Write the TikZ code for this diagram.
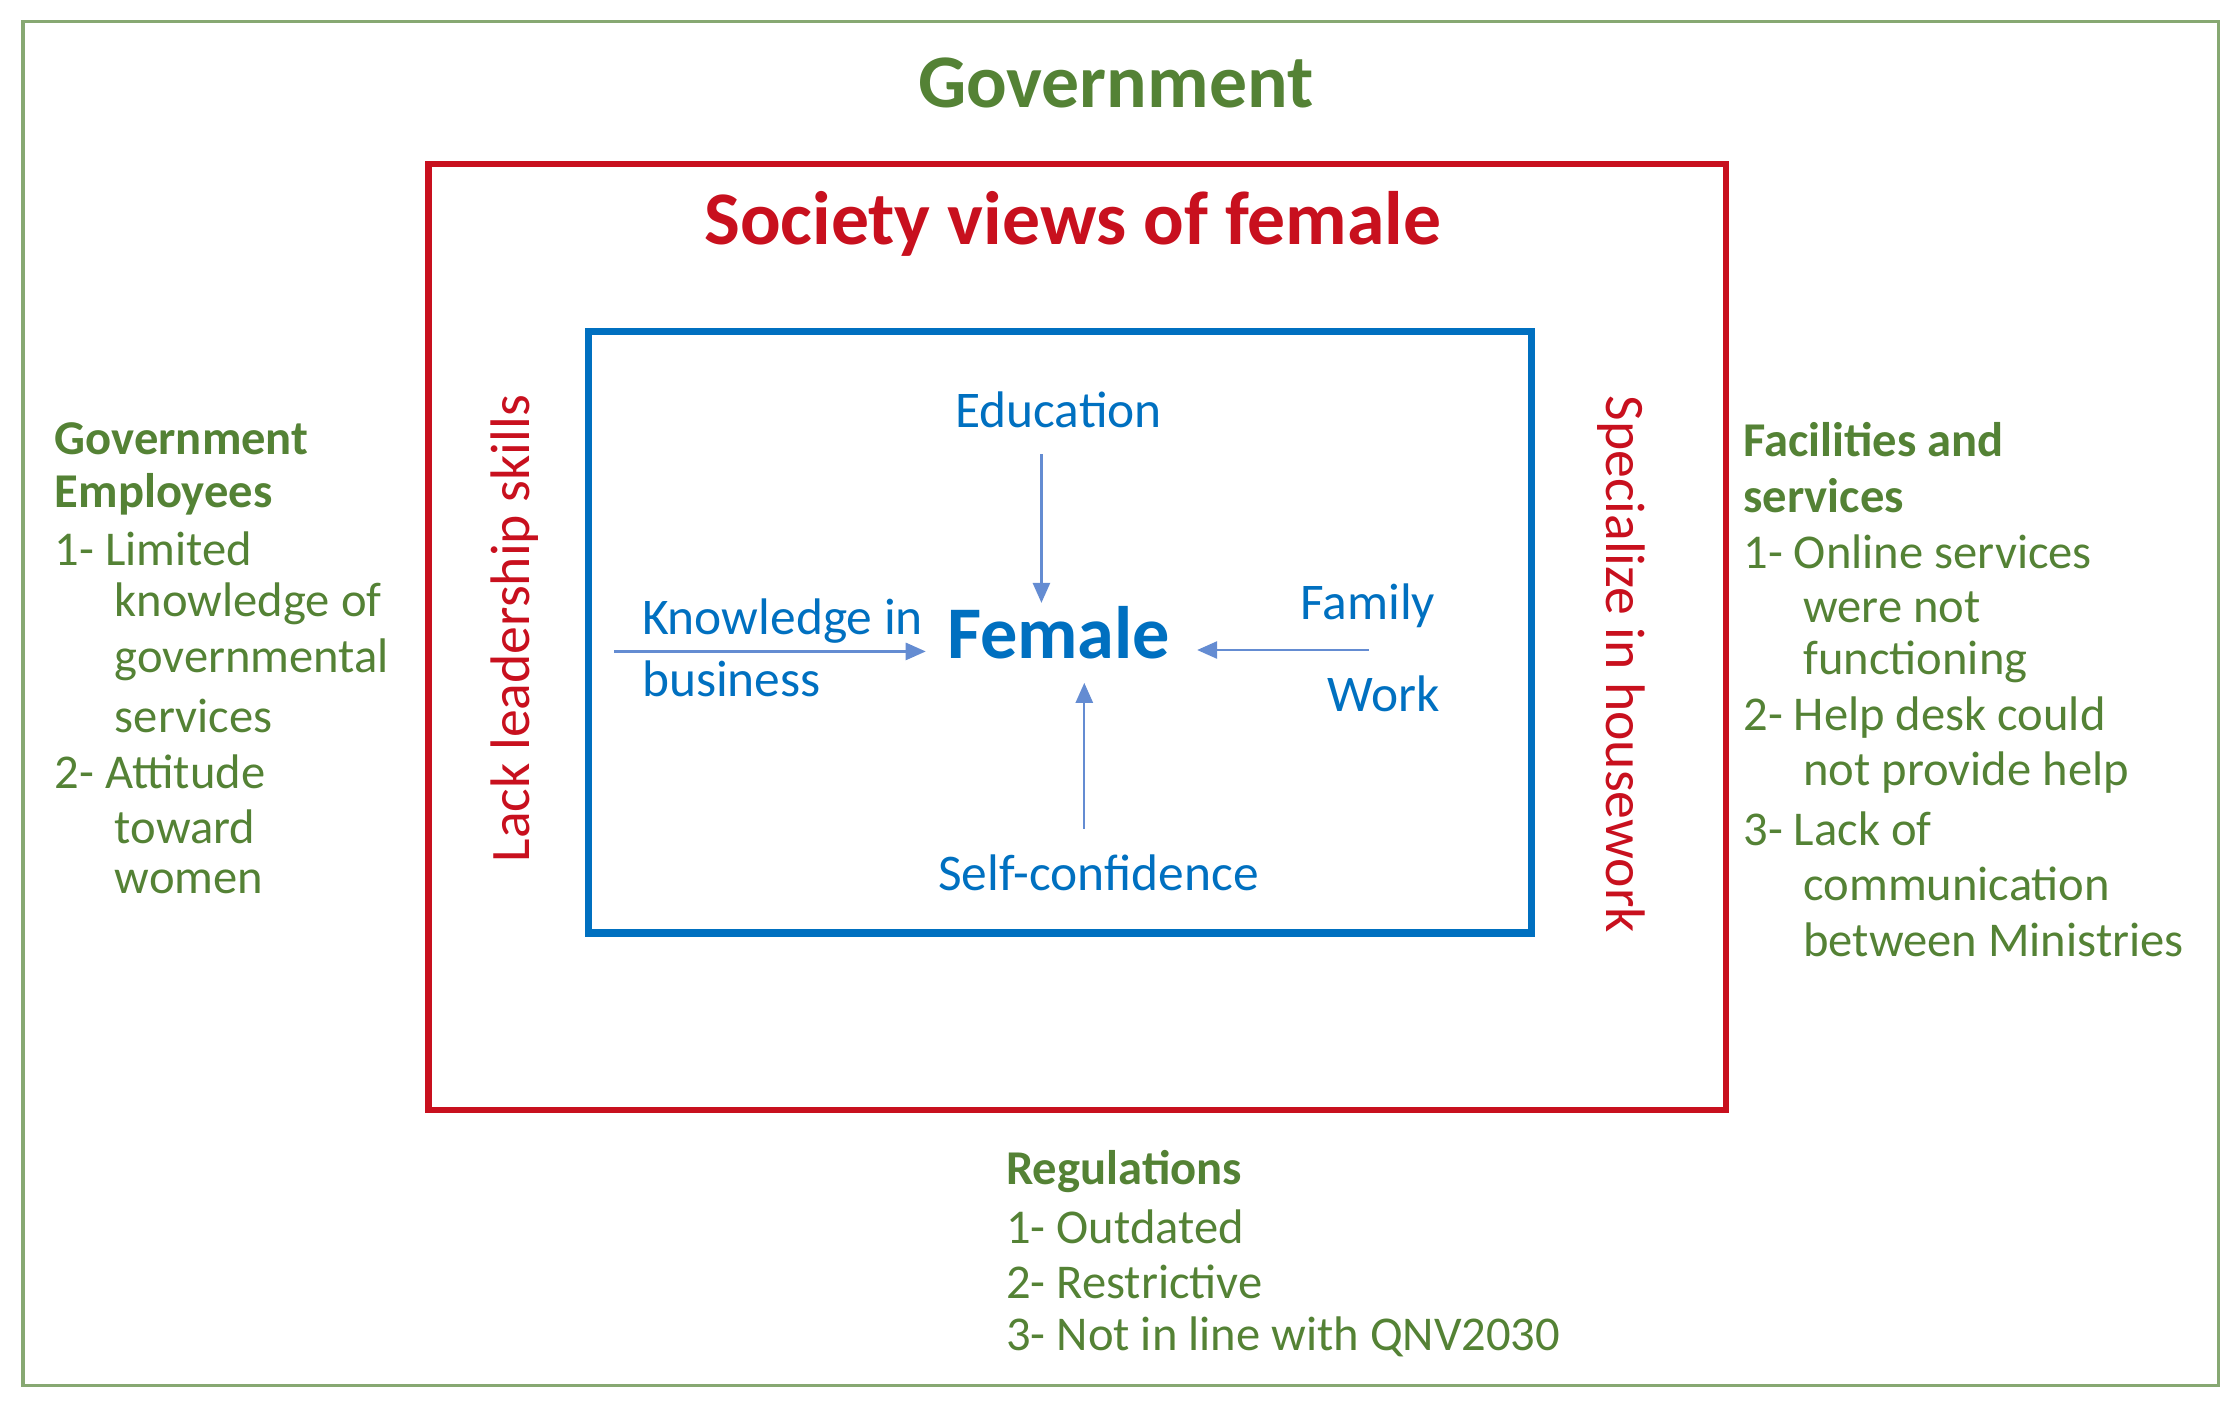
\documentclass[tikz,border=0pt]{standalone}
\usepackage{fontspec}
\setmainfont{Carlito}
\usetikzlibrary{arrows.meta}
\definecolor{gr}{RGB}{84,130,53}
\definecolor{rd}{RGB}{200,16,30}
\definecolor{bl}{RGB}{0,112,192}
\definecolor{ar}{RGB}{100,140,210}
\tikzset{
 gt/.style={text=gr,font=\fontsize{17}{20}\selectfont,anchor=west,inner sep=0},
 gtb/.style={gt,font=\fontsize{17}{20}\selectfont\bfseries},
 bt/.style={text=bl,font=\fontsize{18}{21}\selectfont,inner sep=0},
 rt/.style={text=rd,font=\fontsize{19.5}{22}\selectfont,inner sep=0},
 arr/.style={draw=ar,line width=0.8pt,-{Triangle[length=7pt,width=6pt]}}
}
\begin{document}
\begin{tikzpicture}[x=0.5pt,y=-0.5pt]
\useasboundingbox (0,0) rectangle (1568,992);
\draw[gr!70!white,line width=1.2pt] (16,15) rectangle (1553,970);
\draw[rd,line width=2.2pt] (300,115) rectangle (1208,777);
\draw[bl,line width=2.6pt] (412,232) rectangle (1072,653);
\node[text=gr,font=\fontsize{26.5}{30}\selectfont\bfseries] (gov) at (781,58) {Government};
\node[text=rd,font=\fontsize{26.5}{30}\selectfont\bfseries] (soc) at (751,157) {Society views of female};
\node[text=bl,font=\fontsize{26}{30}\selectfont\bfseries] (fem) at (741,443) {Female};
\node[bt] (edu) at (741,287) {Education};
\node[bt] (self) at (769,611) {Self-confidence};
\node[bt,anchor=west] (kn1) at (449,435) {Knowledge in};
\node[bt,anchor=west] (kn2) at (449,475) {business};
\node[bt,anchor=east] (fam) at (1005,424) {Family};
\node[bt,anchor=east] (work) at (1008,486) {Work};
\coordinate (e1) at (729,318); \coordinate (e2) at (729,422);
\coordinate (s1) at (759,580); \coordinate (s2) at (759,478);
\coordinate (k1) at (430,456); \coordinate (k2) at (648,456);
\coordinate (f1) at (958,455); \coordinate (f2) at (838,455);
\draw[arr] (e1) -- (e2);
\draw[arr] (s1) -- (s2);
\draw[arr] (k1) -- (k2);
\draw[arr] (f1) -- (f2);
\node[rt,rotate=90] (lack) at (360,440) {Lack leadership skills};
\node[rt,rotate=-90] (spec) at (1135,465) {Specialize in housework};
% left
\node[gtb] (l1) at (38,307) {Government};
\node[gtb] (l2) at (38,346) {Employees};
\node[gt] (l3) at (38,384) {1- Limited};
\node[gt] (l4) at (80,423) {knowledge of};
\node[gt] (l5) at (80,462) {governmental};
\node[gt] (l6) at (80,501) {services};
\node[gt] (l7) at (38,540) {2- Attitude};
\node[gt] (l8) at (80,579) {toward};
\node[gt] (l9) at (80,617) {women};
% right
\node[gtb] (r1) at (1220,308) {Facilities and};
\node[gtb] (r2) at (1220,347) {services};
\node[gt] (r3) at (1220,386) {1- Online services};
\node[gt] (r4) at (1262,425) {were not};
\node[gt] (r5) at (1262,463) {functioning};
\node[gt] (r6) at (1220,502) {2- Help desk could};
\node[gt] (r7) at (1262,541) {not provide help};
\node[gt] (r8) at (1220,580) {3- Lack of};
\node[gt] (r9) at (1262,619) {communication};
\node[gt] (r10) at (1262,658) {between Ministries};
% bottom
\node[gtb] (b1) at (704,820) {Regulations};
\node[gt] (b2) at (704,859) {1- Outdated};
\node[gt] (b3) at (704,897) {2- Restrictive};
\node[gt] (b4) at (704,936) {3- Not in line with QNV2030};
\end{tikzpicture}
\end{document}
